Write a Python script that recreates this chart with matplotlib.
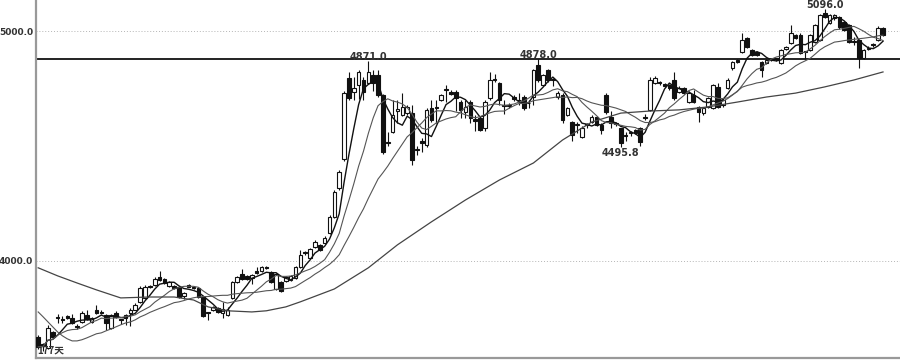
import numpy as np
import pandas as pd
import matplotlib
matplotlib.use("Agg")
import matplotlib.pyplot as plt

# daily OHLC, left to right
opens = [3670, 3640, 3622, 3691, 3752, 3745, 3760, 3752, 3715, 3735,
         3765, 3735, 3787, 3776, 3765, 3709, 3774, 3745, 3752, 3774,
         3787, 3822, 3839, 3890, 3896, 3930, 3922, 3891, 3891, 3887,
         3848, 3896, 3887, 3883, 3843, 3776, 3787, 3796, 3774, 3765,
         3839, 3909, 3943, 3935, 3926, 3957, 3957, 3974, 3952, 3878,
         3909, 3913, 3917, 3926, 3974, 4037, 4013, 4061, 4070, 4078,
         4122, 4191, 4317, 4443, 4796, 4735, 4765, 4787, 4774, 4809,
         4809, 4722, 4515, 4561, 4652, 4635, 4643, 4643, 4485, 4522,
         4504, 4665, 4670, 4700, 4745, 4735, 4735, 4691, 4648, 4691,
         4617, 4622, 4578, 4709, 4790, 4774, 4680, 4676, 4712, 4698,
         4713, 4685, 4713, 4852, 4765, 4830, 4788, 4713, 4722, 4635,
         4604, 4590, 4539, 4592, 4604, 4626, 4591, 4722, 4626, 4596,
         4578, 4544, 4555, 4570, 4578, 4623, 4657, 4774, 4778, 4768,
         4765, 4787, 4735, 4752, 4691, 4722, 4670, 4643, 4670, 4665,
         4757, 4678, 4752, 4839, 4874, 4909, 4970, 4917, 4909, 4865,
         4861, 4875, 4879, 4861, 4922, 4948, 4983, 4983, 4910, 4917,
         4952, 4961, 5078, 5035, 5057, 5061, 5040, 5026, 4953, 4961,
         4883, 4922, 4940, 4961, 5013]
highs = [3678, 3645, 3720, 3695, 3770, 3760, 3765, 3770, 3725, 3780,
         3785, 3757, 3810, 3785, 3770, 3770, 3780, 3748, 3770, 3795,
         3815, 3890, 3895, 3895, 3930, 3957, 3926, 3913, 3895, 3890,
         3865, 3900, 3890, 3887, 3845, 3778, 3803, 3800, 3822, 3800,
         3913, 3935, 3965, 3939, 3943, 3975, 3978, 3978, 3957, 3948,
         3913, 3935, 3939, 3978, 4048, 4045, 4057, 4090, 4075, 4110,
         4200, 4310, 4395, 4740, 4822, 4800, 4830, 4800, 4871, 4830,
         4830, 4725, 4560, 4700, 4700, 4730, 4680, 4680, 4500, 4535,
         4665, 4700, 4700, 4728, 4765, 4745, 4745, 4700, 4700, 4700,
         4635, 4630, 4700, 4822, 4815, 4780, 4700, 4685, 4720, 4730,
         4720, 4700, 4835, 4878, 4815, 4835, 4795, 4740, 4730, 4670,
         4610, 4605, 4585, 4600, 4635, 4630, 4600, 4730, 4650, 4605,
         4580, 4560, 4565, 4575, 4582, 4640, 4800, 4805, 4782, 4772,
         4770, 4822, 4760, 4758, 4740, 4745, 4675, 4670, 4715, 4770,
         4775, 4710, 4795, 4870, 4880, 4991, 4975, 4920, 4912, 4870,
         4878, 4880, 4884, 4922, 4935, 5026, 4988, 4990, 4915, 4988,
         5030, 5075, 5096, 5075, 5075, 5065, 5045, 5030, 4975, 4965,
         4922, 4935, 4950, 5020, 5018]
lows = [3617, 3610, 3615, 3665, 3730, 3730, 3748, 3725, 3705, 3730,
        3743, 3730, 3770, 3768, 3700, 3705, 3752, 3725, 3720, 3715,
        3785, 3818, 3835, 3880, 3890, 3913, 3900, 3887, 3878, 3840,
        3835, 3885, 3878, 3840, 3757, 3745, 3783, 3774, 3752, 3760,
        3835, 3905, 3918, 3918, 3900, 3943, 3952, 3965, 3905, 3874,
        3865, 3909, 3913, 3922, 3970, 4025, 4008, 4057, 4043, 4074,
        4118, 4187, 4310, 4435, 4700, 4700, 4705, 4700, 4770, 4740,
        4715, 4465, 4500, 4555, 4600, 4630, 4635, 4417, 4460, 4474,
        4495, 4605, 4600, 4695, 4690, 4720, 4650, 4620, 4620, 4600,
        4565, 4565, 4565, 4700, 4780, 4680, 4640, 4665, 4695, 4680,
        4655, 4665, 4680, 4780, 4760, 4780, 4760, 4705, 4600, 4630,
        4520, 4555, 4535, 4580, 4600, 4585, 4550, 4640, 4580, 4585,
        4496, 4520, 4545, 4550, 4500, 4615, 4650, 4770, 4765, 4755,
        4745, 4700, 4730, 4725, 4685, 4685, 4604, 4635, 4665, 4660,
        4665, 4670, 4748, 4830, 4862, 4905, 4925, 4890, 4890, 4800,
        4856, 4868, 4870, 4856, 4918, 4944, 4965, 4900, 4880, 4912,
        4948, 4955, 5055, 5030, 5050, 5010, 4998, 4948, 4940, 4839,
        4878, 4918, 4930, 4955, 4978]
closes = [3626, 3630, 3709, 3670, 3750, 3743, 3752, 3730, 3713, 3774,
          3748, 3752, 3774, 3774, 3730, 3765, 3757, 3743, 3765, 3787,
          3809, 3883, 3887, 3885, 3922, 3917, 3904, 3909, 3883, 3843,
          3861, 3887, 3883, 3843, 3761, 3774, 3800, 3778, 3791, 3787,
          3909, 3930, 3922, 3922, 3939, 3948, 3974, 3970, 3909, 3943,
          3870, 3930, 3935, 3974, 4026, 4035, 4052, 4083, 4048, 4100,
          4191, 4300, 4387, 4730, 4709, 4752, 4822, 4735, 4822, 4774,
          4722, 4474, 4513, 4635, 4660, 4670, 4670, 4439, 4483, 4513,
          4657, 4613, 4665, 4722, 4743, 4728, 4709, 4657, 4670, 4622,
          4610, 4570, 4691, 4787, 4785, 4700, 4675, 4680, 4705, 4702,
          4665, 4689, 4830, 4787, 4809, 4787, 4786, 4730, 4613, 4665,
          4548, 4592, 4578, 4590, 4626, 4591, 4570, 4648, 4600, 4594,
          4513, 4542, 4560, 4557, 4517, 4621, 4787, 4796, 4772, 4762,
          4752, 4709, 4752, 4730, 4730, 4691, 4648, 4665, 4709, 4765,
          4670, 4700, 4787, 4865, 4866, 4961, 4930, 4896, 4896, 4830,
          4874, 4873, 4877, 4917, 4930, 4991, 4970, 4904, 4908, 4983,
          5026, 5070, 5061, 5070, 5070, 5017, 5004, 4952, 4951, 4883,
          4917, 4928, 4938, 5013, 4983]

# MA20 for the first 19 days (window reaches back before the first candle)
ma20_head = [3778, 3757, 3735, 3713, 3691, 3674, 3661, 3652, 3652, 3657,
             3665, 3674, 3683, 3687, 3696, 3704, 3713, 3722, 3730]
# long moving average
ma60_idx = [0, 4, 8, 12, 17, 23, 28, 32, 35, 39, 44, 47, 51, 54, 61, 68, 74,
            81, 88, 95, 102, 108, 114, 120, 126, 132, 138, 144, 150, 156,
            162, 168, 174]
ma60_val = [3970, 3935, 3904, 3874, 3839, 3843, 3843, 3830, 3800, 3783,
            3778, 3783, 3800, 3822, 3878, 3970, 4070, 4170, 4265, 4352,
            4426, 4526, 4604, 4643, 4652, 4657, 4670, 4691, 4713, 4730,
            4757, 4787, 4822]

resistance = 4878.0
peak_marks = [(68, 4871.0), (103, 4878.0), (162, 5096.0)]
trough_marks = [(120, 4495.8)]
days_label = "177天"

o = np.array(opens, float)
h = np.array(highs, float)
l = np.array(lows, float)
c = np.array(closes, float)
x = np.arange(len(c))
up = c >= o

s = pd.Series(c)
ma5 = s.rolling(5, min_periods=1).mean()
ma10 = s.rolling(10, min_periods=1).mean()
ma20 = s.rolling(20).mean()
ma20.iloc[:len(ma20_head)] = ma20_head

fig = plt.figure(figsize=(9, 3.63), dpi=100)
ax = fig.add_axes([0.04, 0.014, 0.96, 0.986])

ax.axhline(5000, color="#b5b5b5", lw=0.7, ls=(0, (1, 2)), zorder=0)
ax.axhline(4000, color="#b5b5b5", lw=0.7, ls=(0, (1, 2)), zorder=0)
ax.axhline(resistance, color="#222222", lw=1.4, zorder=1)

ax.vlines(x, l, h, color="#111111", lw=0.8, zorder=2)
body_lo = np.minimum(o, c)
body_h = np.maximum(np.abs(c - o), 4)
ax.bar(x[up], body_h[up], bottom=body_lo[up], width=0.74, color="white",
       edgecolor="#111111", lw=0.8, zorder=3)
ax.bar(x[~up], body_h[~up], bottom=body_lo[~up], width=0.74, color="#111111",
       edgecolor="#111111", lw=0.8, zorder=3)

ax.plot(x, ma5, color="#111111", lw=1.0, zorder=4)
ax.plot(x, ma10, color="#555555", lw=0.8, zorder=4)
ax.plot(x, ma20, color="#555555", lw=0.8, zorder=4)
ax.plot(ma60_idx, ma60_val, color="#444444", lw=0.9, zorder=4)

for i, v in peak_marks:
    ax.annotate(f"{v:.1f}", (i, v), xytext=(0, 0.5), textcoords="offset points",
                ha="center", va="baseline", fontsize=7, fontweight="bold",
                color="#333333", annotation_clip=False)
for i, v in trough_marks:
    ax.annotate(f"{v:.1f}", (i, v), xytext=(0, -1), textcoords="offset points",
                ha="center", va="top", fontsize=7, fontweight="bold",
                color="#333333")

ax.text(0.002, 0.008, days_label, transform=ax.transAxes, fontsize=7,
        fontweight="bold", color="#333333", va="bottom", ha="left",
        family=["Noto Sans CJK SC", "DejaVu Sans"])

ax.set_xlim(-0.45, 177.5)
ax.set_ylim(3578, 5135)
ax.set_xticks([])
ax.set_yticks([4000, 5000])
ax.set_yticklabels(["4000.0", "5000.0"], fontsize=6.5, fontweight="bold",
                   color="#333333")
ax.tick_params(axis="y", length=0, pad=2)
for side in ["top", "right"]:
    ax.spines[side].set_visible(False)
for side in ["left", "bottom"]:
    ax.spines[side].set_color("#999999")
    ax.spines[side].set_linewidth(1.6)

fig.savefig("out.png", dpi=100, facecolor="white")
